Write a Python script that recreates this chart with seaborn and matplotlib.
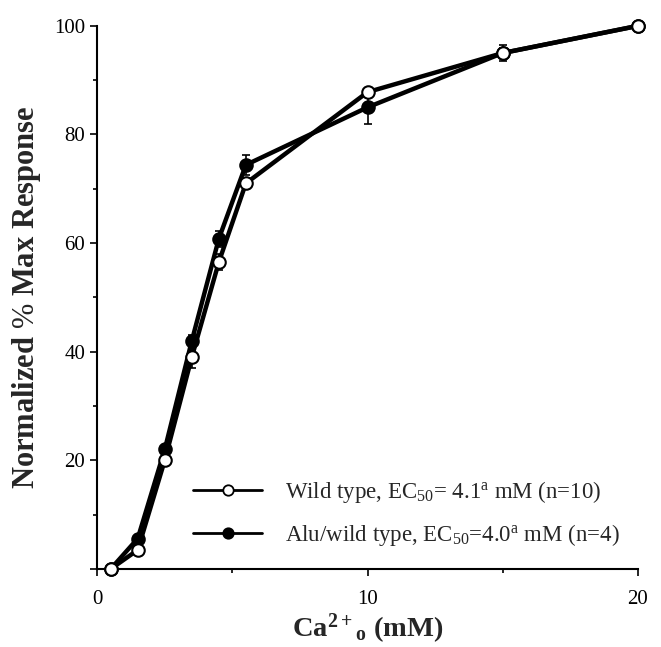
import matplotlib
matplotlib.use("Agg")
import matplotlib.pyplot as plt
import seaborn as sns
import pandas as pd
import numpy as np

# Data
ca_conc = [0.5, 1.5, 2.5, 3.5, 4.5, 5.5, 10, 15, 20]
wild_type = [0, 3.5, 20, 39, 56.5, 71, 87.8, 95, 100]
wild_type_err = [0, 0.5, 1.0, 2.0, 1.5, 1.0, 0.8, 1.0, 0]
alu_wild = [0, 5.6, 22, 42, 60.8, 74.4, 85, 95, 100]
alu_wild_err = [0, 0.5, 0.8, 1.0, 1.5, 1.8, 3.0, 1.5, 0]
labels = [r"Wild type, EC$_{50}$= 4.1$^{\rm a}$ mM (n=10)",
          r"Alu/wild type, EC$_{50}$=4.0$^{\rm a}$ mM (n=4)"]
x_ticks = [0, 10, 20]
y_ticks = [0, 20, 40, 60, 80, 100]
y_tick_labels = ["", "20", "40", "60", "80", "100"]

sns.set_style("ticks")
plt.rcParams["font.family"] = ["Liberation Serif", "DejaVu Serif"]
plt.rcParams["mathtext.fontset"] = "custom"
plt.rcParams["mathtext.rm"] = "Liberation Serif"
plt.rcParams["mathtext.it"] = "Liberation Serif:italic:bold"
plt.rcParams["mathtext.bf"] = "Liberation Serif:bold"

fig = plt.figure(figsize=(6.61, 6.47), dpi=100)
ax = fig.add_axes([0.147, 0.1206, 0.818, 0.8394])

df = pd.DataFrame({
    "x": ca_conc * 2,
    "y": wild_type + alu_wild,
    "err": wild_type_err + alu_wild_err,
    "series": [labels[0]] * len(ca_conc) + [labels[1]] * len(ca_conc),
})

# error bars
for lab in labels:
    sub = df[df.series == lab]
    ax.errorbar(sub.x, sub.y, yerr=sub.err, fmt="none", ecolor="black",
                elinewidth=1.2, capsize=3, capthick=1.2, zorder=2)

for lab, fill in zip(labels[::-1], ["black", "white"]):
    sub = df[df.series == lab]
    sns.lineplot(data=sub, x="x", y="y", ax=ax, color="black", linewidth=3.2,
                 marker="o", markersize=9, markerfacecolor=fill,
                 markeredgecolor="black", markeredgewidth=1.5, label=lab,
                 zorder=3, clip_on=False)

ax.set_xlim(0, 20)
ax.set_ylim(0, 100)
ax.set_xticks(x_ticks)
ax.set_xticks([5, 15], minor=True)
ax.set_yticks(y_ticks)
ax.set_yticklabels(y_tick_labels)
ax.set_yticks([10, 30, 50, 70, 90], minor=True)
ax.tick_params(axis="both", which="major", labelsize=15, length=5, width=1.2,
               color="black", labelcolor="black")
ax.tick_params(axis="both", which="minor", length=3, width=1.2, color="black")
ax.tick_params(axis="x", which="major", pad=10)
for s in ["left", "bottom"]:
    ax.spines[s].set_linewidth(1.5)
    ax.spines[s].set_color("black")
sns.despine(ax=ax)

ax.set_xlabel(r"Ca$^{\mathbf{2+}}$$_{\mathbf{o}}$ (mM)", fontsize=20.5,
              fontweight="bold", labelpad=2)
ax.set_ylabel(r"Normalized $\mathit{\%}$ Max Response", fontsize=22,
              fontweight="bold", labelpad=8)

handles, labs = ax.get_legend_handles_labels()
order = [labs.index(labels[0]), labs.index(labels[1])]
leg = ax.legend([handles[i] for i in order], [labs[i] for i in order],
                loc="lower left", bbox_to_anchor=(0.14, 0.0), frameon=False,
                fontsize=16.5, handlelength=3.0, handletextpad=1.0,
                labelspacing=0.75)
for h in leg.legend_handles:
    h.set_linewidth(2.0)
    h.set_markersize(7.5)
    h.set_markeredgewidth(1.3)

fig.savefig("out.png", dpi=100)
